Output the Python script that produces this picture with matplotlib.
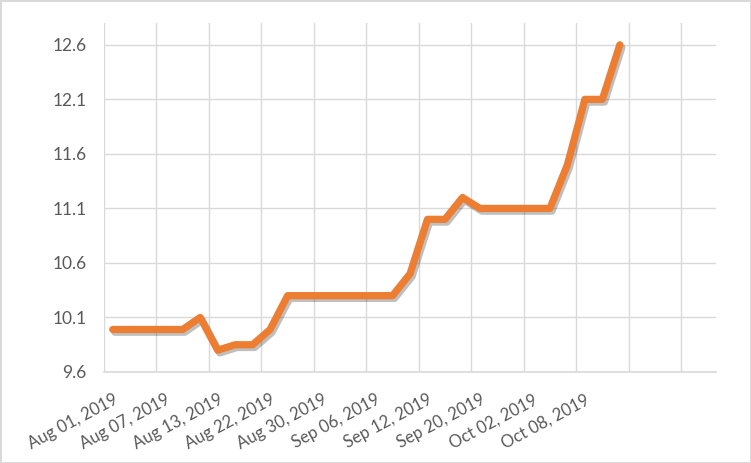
import numpy as np
import matplotlib.pyplot as plt
import matplotlib.patheffects as pe

# Excel tarzı çizgi grafik: 35 kategori, ilk 30'unda veri var
values = [9.99, 9.99, 9.99, 9.99, 9.99, 10.1, 9.8, 9.85, 9.85, 9.99,
          10.3, 10.3, 10.3, 10.3, 10.3, 10.3, 10.3, 10.5, 11.0, 11.0,
          11.2, 11.1, 11.1, 11.1, 11.1, 11.1, 11.5, 12.1, 12.1, 12.6]
n_categories = 35
label_step = 3
tick_labels = ['Aug 01, 2019', 'Aug 07, 2019', 'Aug 13, 2019', 'Aug 22, 2019',
               'Aug 30, 2019', 'Sep 06, 2019', 'Sep 12, 2019', 'Sep 20, 2019',
               'Oct 02, 2019', 'Oct 08, 2019']
y_ticks = [9.6, 10.1, 10.6, 11.1, 11.6, 12.1, 12.6]

plt.rcParams['font.family'] = ['Lato', 'DejaVu Sans']

fig = plt.figure(figsize=(7.51, 4.63), dpi=100)
fig.patch.set_edgecolor('#d9d9d9')
fig.patch.set_linewidth(2)
ax = fig.add_axes([104 / 751, 1 - 372 / 463, 612 / 751, 349 / 463])

x = np.arange(len(values)) + 0.5
ax.plot(x, values, color='#ED7D31', linewidth=5.2,
        solid_joinstyle='round', solid_capstyle='round',
        path_effects=[pe.SimpleLineShadow(offset=(1.5, -2), shadow_color='black', alpha=0.25),
                      pe.Normal()])

ax.set_xlim(0, n_categories)
ax.set_ylim(9.6, 12.8)

# dikey ızgara: her 3 kategoride bir
ax.set_xticks(np.arange(0, n_categories, label_step), minor=True)
ax.grid(True, which='minor', axis='x', color='#d9d9d9', linewidth=1)
ax.set_xticks(np.arange(len(tick_labels)) * label_step + 0.5)
ax.set_xticklabels(tick_labels, rotation=28, ha='right', va='top',
                   rotation_mode='anchor', fontsize=12, color='#595959')
ax.tick_params(axis='x', which='both', length=0, pad=14)

ax.set_yticks(y_ticks)
ax.set_yticklabels([f'{v:.1f}' for v in y_ticks], fontsize=12.5, color='#595959')
ax.tick_params(axis='y', length=0, pad=12.5)
ax.grid(True, which='major', axis='y', color='#d9d9d9', linewidth=1)
ax.set_axisbelow(True)

for s in ['top', 'right', 'left']:
    ax.spines[s].set_visible(False)
ax.spines['bottom'].set_color('#d9d9d9')
ax.spines['bottom'].set_linewidth(1.2)

fig.savefig('out.png', dpi=100, edgecolor=fig.get_edgecolor())
